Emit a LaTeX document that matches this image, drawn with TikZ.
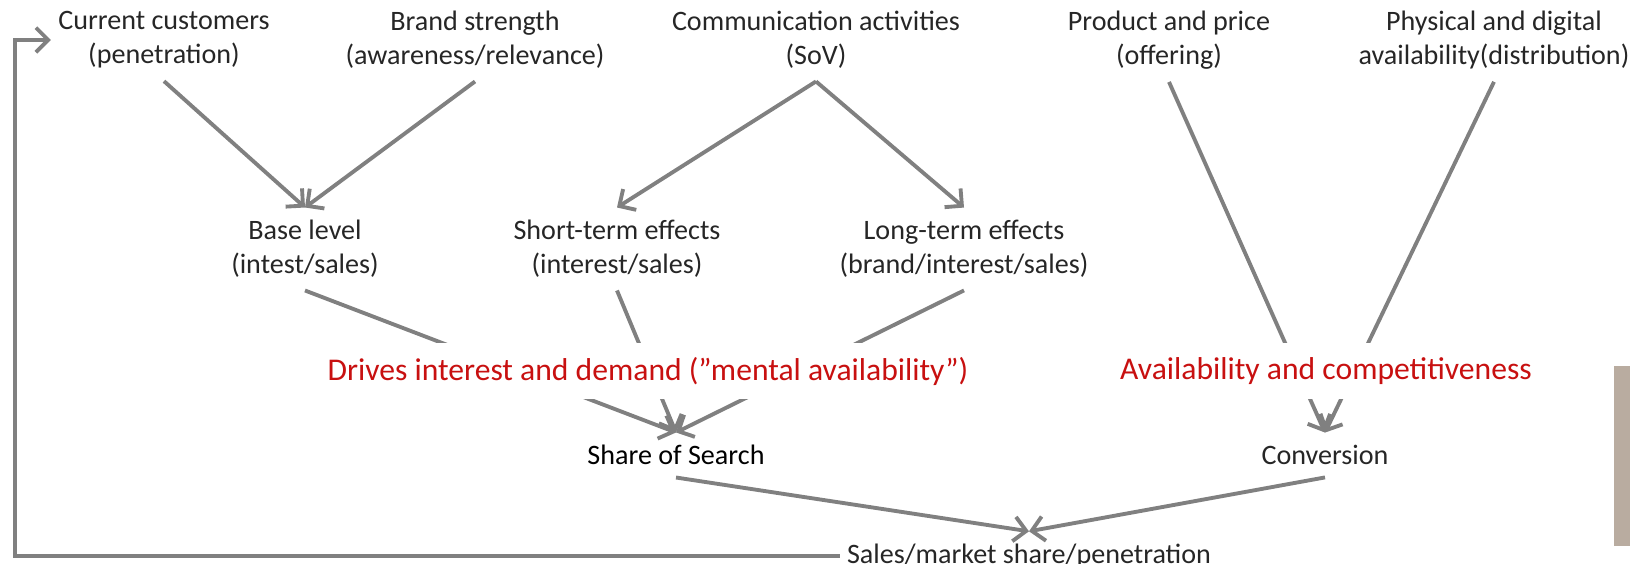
\documentclass[tikz,border=0pt]{standalone}
\usepackage{fontspec}
\setmainfont{Carlito}
\usetikzlibrary{arrows.meta}
\definecolor{linegray}{RGB}{128,128,128}
\definecolor{textred}{RGB}{200,16,16}
\definecolor{bartan}{RGB}{185,172,160}
\definecolor{textdark}{RGB}{38,38,38}
\begin{document}
\begin{tikzpicture}[x=0.02cm, y=-0.02cm,
  every node/.style={font=\fontsize{16}{19.5}\selectfont, text=textdark, align=center, inner xsep=4pt, inner ysep=7pt},
  flow/.style={draw=linegray, line width=2.2pt, -{Straight Barb[length=7pt, width=14pt]}},
  driver/.style={text=textred, fill=white, font=\fontsize{18}{21}\selectfont, inner ysep=8pt}]
\useasboundingbox (0,0) rectangle (1630,564);
% drivers along the top
\node (cust)  at (164,40)  {Current customers\\(penetration)};
\node (brand) at (475,40)  {Brand strength\\(awareness/relevance)};
\node (comm)  at (816,40)  {Communication activities\\(SoV)};
\node (offer) at (1169,40) {Product and price\\(offering)};
\node (distr) at (1494,40) {Physical and digital\\availability(distribution)};
% effects
\node (base)  at (305,249) {Base level\\(intest/sales)};
\node (short) at (617,249) {Short-term effects\\(interest/sales)};
\node (long)  at (964,249) {Long-term effects\\(brand/interest/sales)};
% outcomes
\node[text=black] (sos) at (676,455) {Share of Search};
\node (conv)  at (1325,455) {Conversion};
\node (sales) at (1029,556) {Sales/market share/penetration};
\coordinate (loopx) at (15,0);
\draw[flow] (cust.south) -- (base.north);
\draw[flow] (brand.south) -- (base.north);
\draw[flow] (comm.south) -- (short.north);
\draw[flow] (comm.south) -- (long.north);
\draw[flow] (base.south) -- (sos.north);
\draw[flow] (short.south) -- (sos.north);
\draw[flow] (long.south) -- (sos.north);
\draw[flow] (offer.south) -- (conv.north);
\draw[flow] (distr.south) -- (conv.north);
\draw[flow] (sos.south) -- (sales.north);
\draw[flow] (conv.south) -- (sales.north);
% loop back to current customers
\draw[flow] (sales.west) -- (sales.west -| loopx) |- (cust.west);
% red labels sit over the lines
\node[driver] (mental) at (648,371) {Drives interest and demand (”mental availability”)};
\node[driver] (avail) at (1326,371) {Availability and competitiveness};
\fill[bartan] (1614,366) rectangle (1630,546);
\end{tikzpicture}
\end{document}
